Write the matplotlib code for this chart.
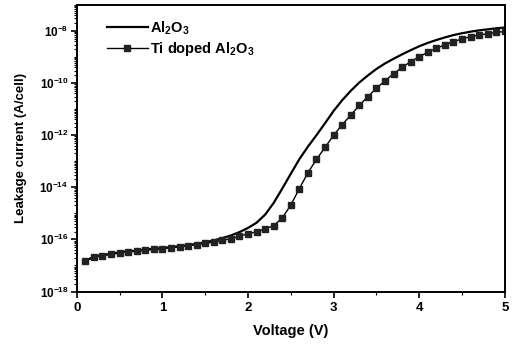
import numpy as np
import matplotlib
matplotlib.use("Agg")
import matplotlib.pyplot as plt
from matplotlib.ticker import LogLocator, FixedLocator, FuncFormatter, MultipleLocator

plt.rcParams['font.family'] = ['Liberation Sans', 'DejaVu Sans']
plt.rcParams['font.weight'] = 'bold'
plt.rcParams['mathtext.fontset'] = 'custom'
plt.rcParams['mathtext.rm'] = 'Liberation Sans:bold'
plt.rcParams['mathtext.bf'] = 'Liberation Sans:bold'
plt.rcParams['mathtext.it'] = 'Liberation Sans:bold'
plt.rcParams['mathtext.default'] = 'bf'

voltage = [0.1, 0.2, 0.3, 0.4, 0.5, 0.6, 0.7, 0.8, 0.9, 1.0,
           1.1, 1.2, 1.3, 1.4, 1.5, 1.6, 1.7, 1.8, 1.9, 2.0,
           2.1, 2.2, 2.3, 2.4, 2.5, 2.6, 2.7, 2.8, 2.9, 3.0,
           3.1, 3.2, 3.3, 3.4, 3.5, 3.6, 3.7, 3.8, 3.9, 4.0,
           4.1, 4.2, 4.3, 4.4, 4.5, 4.6, 4.7, 4.8, 4.9, 5.0]

# log10 of leakage current (A/cell)
al2o3_log = [-16.82, -16.66, -16.60, -16.55, -16.50, -16.46, -16.43, -16.39, -16.36, -16.33,
             -16.30, -16.26, -16.22, -16.17, -16.11, -16.04, -15.95, -15.85, -15.72, -15.56,
             -15.36, -15.05, -14.60, -14.05, -13.48, -12.92, -12.44, -12.00, -11.54, -11.07,
             -10.66, -10.30, -9.98, -9.71, -9.46, -9.25, -9.07, -8.90, -8.74, -8.59,
             -8.46, -8.35, -8.25, -8.16, -8.09, -8.03, -7.98, -7.94, -7.90, -7.87]

ti_log = [-16.84, -16.68, -16.62, -16.57, -16.52, -16.48, -16.45, -16.41, -16.38, -16.35,
          -16.32, -16.28, -16.24, -16.20, -16.15, -16.10, -16.04, -15.97, -15.88, -15.78,
          -15.71, -15.60, -15.47, -15.18, -14.68, -14.05, -13.44, -12.93, -12.47, -12.00,
          -11.60, -11.23, -10.86, -10.52, -10.20, -9.92, -9.64, -9.40, -9.18, -8.99,
          -8.82, -8.67, -8.53, -8.41, -8.31, -8.22, -8.16, -8.11, -8.06, -8.02]

ytick_exps = [-18, -16, -14, -12, -10, -8]

al2o3 = [10.0 ** v for v in al2o3_log]
ti = [10.0 ** v for v in ti_log]

fig = plt.figure(figsize=(5.12, 3.45), dpi=100)
ax = fig.add_axes([0.150, 0.155, 0.836, 0.831])

ax.plot(voltage, al2o3, color='black', lw=1.6, label=r'Al$_{2}$O$_{3}$')
ax.plot(voltage, ti, color='black', lw=1.0, marker='s', ms=3.8,
        markerfacecolor='#222222', markeredgecolor='#222222',
        label=r'Ti doped Al$_{2}$O$_{3}$')

ax.set_yscale('log')
ax.set_xlim(0, 5)
ax.set_ylim(1e-18, 1e-7)

ax.xaxis.set_major_locator(FixedLocator([0, 1, 2, 3, 4, 5]))
ax.xaxis.set_minor_locator(MultipleLocator(0.5))
ax.yaxis.set_major_locator(FixedLocator([10.0 ** e for e in ytick_exps]))
ax.yaxis.set_major_formatter(FuncFormatter(lambda v, p: r'$10^{%d}$' % int(round(np.log10(v)))))
ax.yaxis.set_minor_locator(LogLocator(base=10, subs=np.arange(1, 10), numticks=30))
ax.yaxis.set_minor_formatter(FuncFormatter(lambda v, p: ''))

ax.tick_params(axis='both', which='major', direction='out', length=4, width=1.2, labelsize=9.5)
ax.tick_params(axis='both', which='minor', direction='out', length=2.5, width=0.8)
ax.tick_params(axis='y', which='major', pad=2, labelsize=8.5)

for s in ax.spines.values():
    s.set_linewidth(1.4)

ax.set_xlabel('Voltage (V)', fontsize=10.5, fontweight='bold', labelpad=7)
ax.set_ylabel('Leakage current (A/cell)', fontsize=9.5, fontweight='bold', labelpad=9)

leg = ax.legend(loc='upper left', bbox_to_anchor=(0.04, 0.995), frameon=False,
                fontsize=10.5, handlelength=2.8, handletextpad=0.15, labelspacing=0.25)

fig.savefig('out.png', dpi=100)
